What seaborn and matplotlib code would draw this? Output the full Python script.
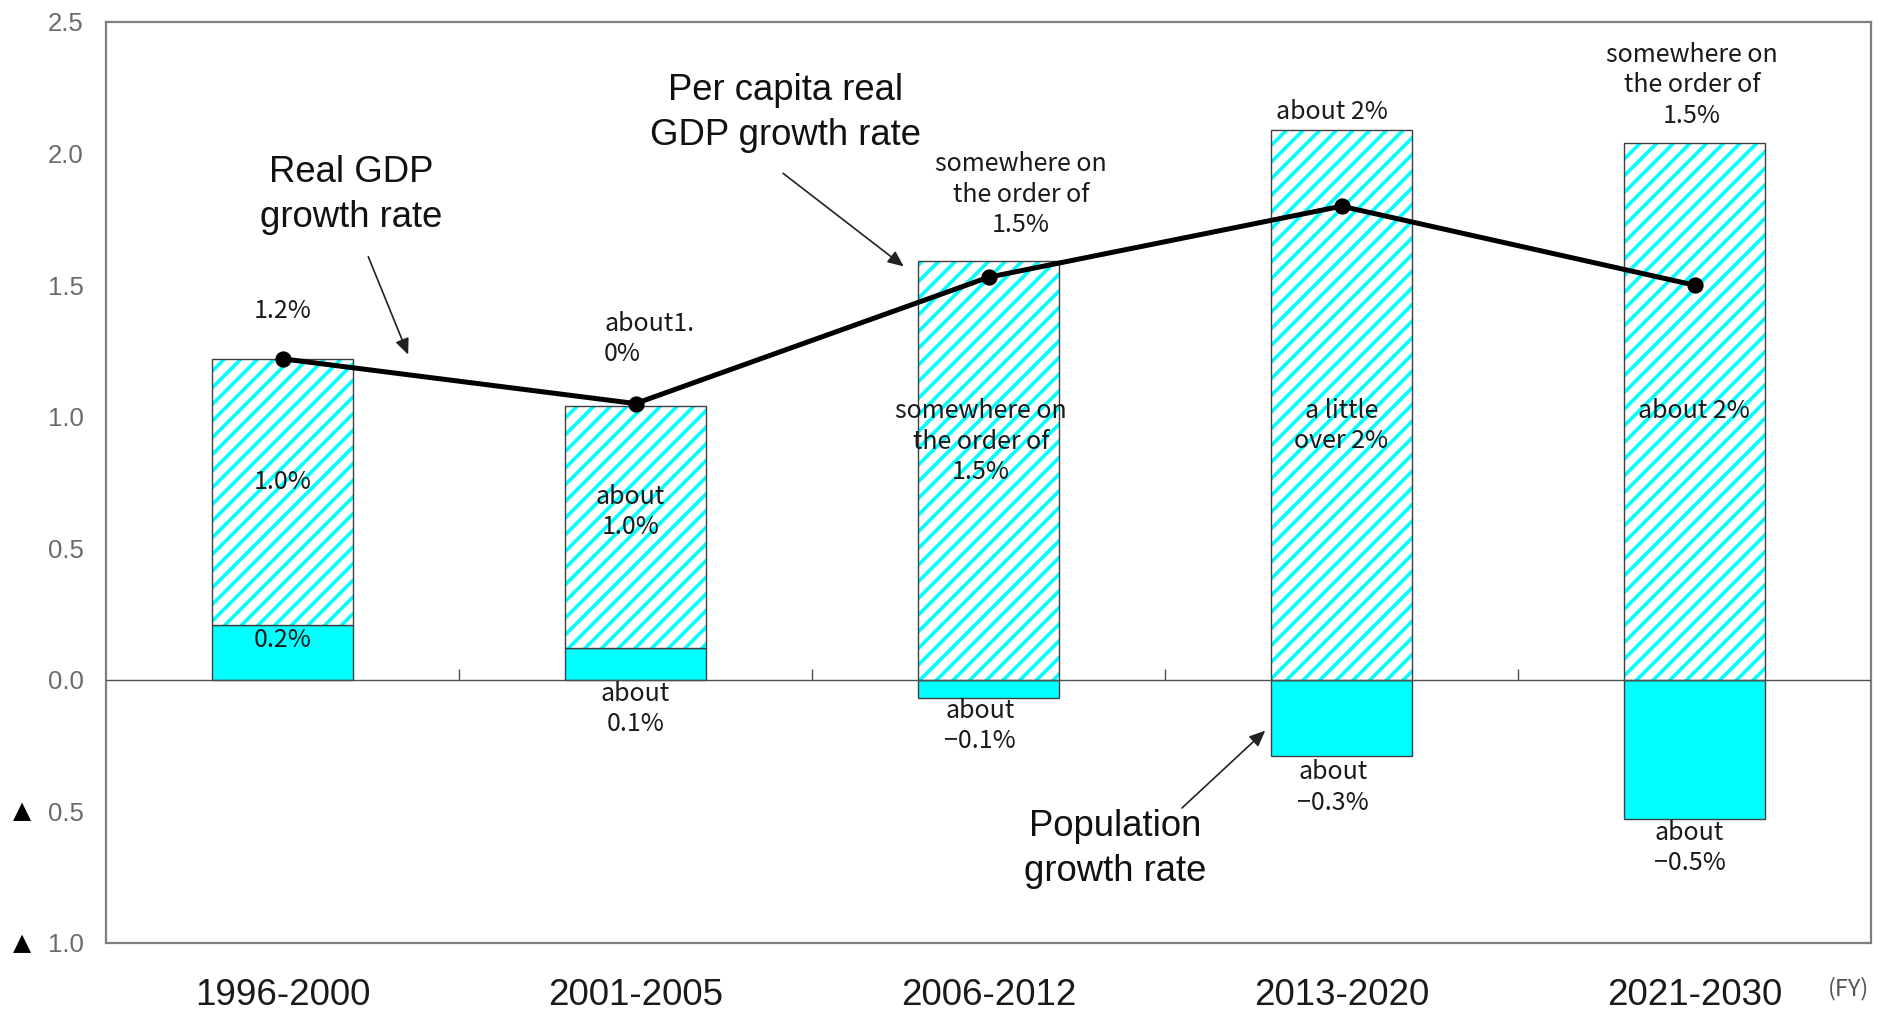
import matplotlib
matplotlib.use("Agg")
import matplotlib.pyplot as plt
import matplotlib.transforms as mtransforms
import seaborn as sns
import pandas as pd
import numpy as np

# ---------------- data ----------------
periods = ["1996-2000", "2001-2005", "2006-2012", "2013-2020", "2021-2030"]
population_growth = [0.21, 0.12, -0.07, -0.29, -0.53]
per_capita_growth = [1.01, 0.92, 1.59, 2.09, 2.04]
real_gdp_growth = [1.22, 1.05, 1.53, 1.80, 1.50]

ytick_values = [2.5, 2.0, 1.5, 1.0, 0.5, 0.0, -0.5, -1.0]
ytick_labels = ["2.5", "2.0", "1.5", "1.0", "0.5", "0.0", "0.5", "1.0"]
negative_marker = "\u25B2"

top_labels = ["1.2%", "about1.\n0%", "somewhere on\nthe order of\n1.5%",
              "about 2%", "somewhere on\nthe order of\n1.5%"]
per_capita_labels = ["1.0%", "about\n1.0%", "somewhere on\nthe order of\n1.5%",
                     "a little\nover 2%", "about 2%"]
population_labels = ["0.2%", "about\n0.1%", "about\n\u22120.1%",
                     "about\n\u22120.3%", "about\n\u22120.5%"]

# ---------------- style ----------------
sns.set_theme(style="white")
plt.rcParams["font.family"] = ["Liberation Sans", "DejaVu Sans"]
plt.rcParams["hatch.linewidth"] = 2.6

CYAN = "#00FFFF"
FRAME = "#7f7f7f"
JP = ["Noto Sans CJK JP", "DejaVu Sans"]

df = pd.DataFrame({
    "period": periods,
    "population": population_growth,
    "per_capita": per_capita_growth,
    "gdp": real_gdp_growth,
})
df["base"] = df["population"].clip(lower=0)

fig = plt.figure(figsize=(18.95, 10.11), dpi=100)
ax = fig.add_axes([106 / 1895, 1 - 943 / 1011, (1871 - 106) / 1895, (943 - 22) / 1011])

# population bars (solid cyan)
sns.barplot(data=df, x="period", y="population", order=periods, color=CYAN,
            width=0.4, saturation=1, edgecolor="#404040", linewidth=1.0, ax=ax)
# per-capita bars (hatched), stacked on positive population
sns.barplot(data=df, x="period", y="per_capita", order=periods, color="white",
            width=0.4, saturation=1, hatch="//", edgecolor=CYAN, linewidth=0,
            bottom=df["base"], ax=ax)
# outline of hatched bars
sns.barplot(data=df, x="period", y="per_capita", order=periods, color="white",
            width=0.4, saturation=1, fill=False, edgecolor="#404040", linewidth=1.0,
            bottom=df["base"], ax=ax)

# real GDP line
sns.pointplot(data=df, x="period", y="gdp", order=periods, color="black",
              markers="o", markersize=9, linewidth=3.6, ax=ax, zorder=5)

ax.set_xlim(-0.5, 4.5)
ax.set_ylim(-1.0, 2.5)
ax.axhline(0, color="#505050", lw=1.0, zorder=3)
ax.vlines([i + 0.5 for i in range(len(periods) - 1)], 0, 0.04, color="#505050", lw=1.0, zorder=3)

ax.set_yticks(ytick_values)
ax.set_yticklabels(ytick_labels)
ax.tick_params(axis="y", length=0, pad=16, labelsize=18.5, labelcolor="#6a6a6a")
ax.tick_params(axis="x", length=0, pad=25, labelsize=26.5, labelcolor="#1a1a1a")
ax.set_xlabel("")
ax.set_ylabel("")
for s in ax.spines.values():
    s.set_visible(True)
    s.set_color(FRAME)
    s.set_linewidth(1.6)

# triangles for negative ticks
trans = mtransforms.blended_transform_factory(fig.transFigure, ax.transData)
for v in ytick_values:
    if v < 0:
        ax.text(22 / 1895, v, negative_marker, transform=trans, ha="center", va="center",
                fontsize=17, color="black", family=["DejaVu Sans"])

fig.text(1849 / 1895, 1 - 989 / 1011, "(FY)", ha="center", va="center",
         fontsize=17, color="#555555", family=JP)

# small labels
small = dict(ha="center", va="center", fontsize=18, color="#1a1a1a", family=JP,
             linespacing=1.22, zorder=6)
top_pos = [(0.0, 1.40), (0.911, 1.295), (2.092, 1.844), (2.973, 2.159), (3.993, 2.26)]
pc_pos = [(0.0, 0.753), (0.986, 0.638), (1.979, 0.905), (3.0, 0.965), (3.997, 1.02)]
pop_pos = [(0.0, 0.152), (1.0, -0.110), (1.976, -0.175), (2.976, -0.409), (3.986, -0.638)]
for i, (x, y) in enumerate(top_pos):
    kw = dict(small)
    if i == 1:
        kw["ha"] = "left"
        kw["multialignment"] = "left"
    ax.text(x, y, top_labels[i], **kw)
for i, (x, y) in enumerate(pc_pos):
    ax.text(x, y, per_capita_labels[i], **small)
for i, (x, y) in enumerate(pop_pos):
    ax.text(x, y, population_labels[i], **small)

# big callouts with arrows
big = dict(ha="center", va="center", fontsize=26.3, color="#111111", linespacing=1.35, zorder=6)
ax.text(0.195, 1.842, "Real GDP\ngrowth rate", **big)
ax.text(1.425, 2.154, "Per capita real\nGDP growth rate", **big)
ax.text(2.36, -0.643, "Population\ngrowth rate", **big)

arrow = dict(arrowstyle="-|>,head_length=0.8,head_width=0.35", color="#222222", lw=1.2,
             shrinkA=0, shrinkB=0)
ax.annotate("", xy=(0.356, 1.236), xytext=(0.243, 1.608), arrowprops=arrow)
ax.annotate("", xy=(1.760, 1.571), xytext=(1.418, 1.925), arrowprops=arrow)
ax.annotate("", xy=(2.784, -0.193), xytext=(2.548, -0.487), arrowprops=arrow)

fig.savefig("out.png", dpi=100)
